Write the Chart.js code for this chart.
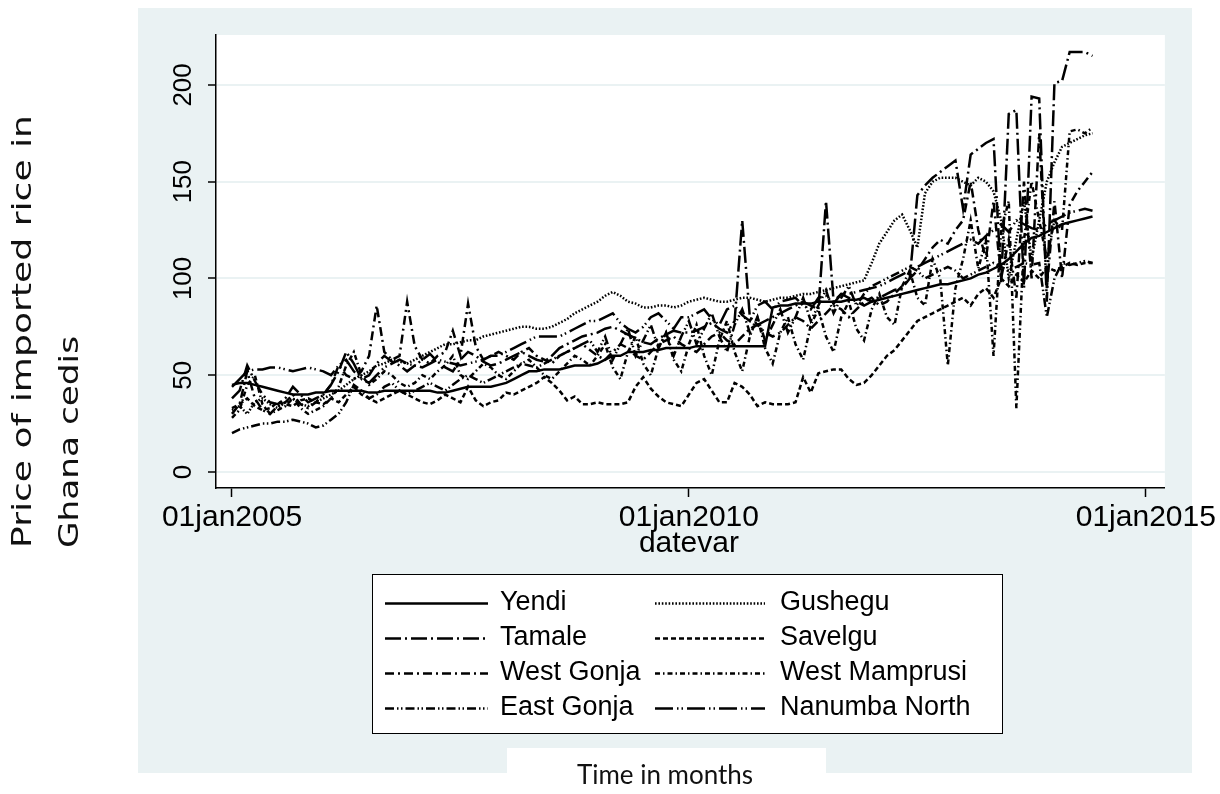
<!DOCTYPE html>
<html><head><meta charset="utf-8">
<script src="https://cdn.jsdelivr.net/npm/chart.js@4.4.1/dist/chart.umd.min.js"></script>
<style>html,body{margin:0;padding:0;background:#fff;}#wrap{position:relative;width:1220px;height:794px;}</style>
</head><body><div id="wrap"><canvas id="c" width="1220" height="794"></canvas></div>
<script>
// Monthly prices, Jan 2005 .. Jun 2014 (one row per year)
const yendi = [
 45,46,46,45,44,43,42,41,40,40,40,41,
 41,42,42,42,42,42,41,41,42,42,42,42,
 42,42,42,41,41,42,43,44,44,44,44,45,
 46,48,50,52,52,53,53,53,54,55,55,55,
 56,58,60,60,62,62,62,63,63,64,64,64,
 64,65,65,65,65,65,65,65,65,65,65,85,
 86,86,87,87,87,88,88,88,88,89,89,90,
 88,89,90,91,92,93,94,95,96,97,97,98,
 99,100,102,103,105,107,110,114,118,121,122,124,
 126,128,129,130,131,132];
const gushegu = [
 32,34,30,36,38,35,33,36,38,35,34,36,
 38,40,42,45,48,50,52,55,56,58,57,56,
 58,60,62,64,66,66,67,68,68,70,71,72,
 73,74,75,75,74,74,75,77,79,82,84,86,
 88,91,93,91,88,87,85,85,86,86,85,86,
 88,89,90,89,88,88,89,90,90,89,88,89,
 90,90,91,92,92,93,94,95,96,97,98,99,
 108,118,124,130,133,125,116,144,150,152,152,152,
 150,148,152,150,145,130,100,120,140,110,130,150,
 160,168,170,172,174,175];
const tamale = [
 38,42,55,47,40,36,35,38,44,40,36,38,
 40,45,52,62,56,48,50,56,60,57,55,52,
 55,58,61,57,54,52,58,62,60,57,55,56,
 58,60,62,60,58,57,60,64,66,68,70,71,
 72,74,75,73,71,69,67,66,69,71,73,72,
 72,73,75,77,74,72,78,130,80,76,78,80,
 82,84,86,88,86,84,140,88,92,90,88,86,
 88,90,92,94,95,100,143,148,152,155,158,161,
 136,164,167,170,172,98,185,187,95,194,193,88,
 201,202,217,217,217,215];
const savelgu = [
 33,35,38,34,32,33,36,35,34,37,38,36,
 35,38,36,40,44,40,38,36,38,40,42,40,
 38,36,35,37,40,38,36,44,37,34,36,37,
 41,40,42,44,46,49,46,42,37,39,35,35,
 36,35,35,35,36,44,49,43,39,36,35,34,
 40,46,48,42,36,36,46,44,40,34,36,35,
 35,35,36,49,41,51,52,53,53,48,45,46,
 50,55,60,63,68,73,78,80,82,84,86,88,
 90,86,92,95,90,100,96,102,98,104,100,106,
 104,106,108,107,108,108];
const westGonja = [
 30,35,52,38,32,30,34,36,40,35,33,36,
 40,45,55,50,48,52,60,86,62,58,60,88,
 65,58,56,60,62,73,60,87,65,58,60,62,
 60,58,62,64,60,58,56,60,62,64,66,63,
 60,58,62,66,64,60,58,62,66,68,70,66,
 64,62,66,70,72,68,66,70,74,76,72,70,
 72,76,80,78,74,78,82,86,84,80,84,88,
 90,86,88,92,96,100,104,110,116,120,118,125,
 130,150,125,110,140,100,120,90,150,100,175,95,
 140,100,138,145,150,155];
const westMamprusi = [
 28,32,45,50,35,30,32,34,38,33,30,32,
 34,38,44,55,62,50,45,48,52,50,46,44,
 46,50,48,52,55,60,50,48,52,56,54,50,
 48,52,56,58,54,50,48,52,56,60,58,55,
 60,66,54,48,62,70,56,50,64,72,58,52,
 66,76,60,50,68,78,62,52,70,80,64,56,
 72,80,66,58,76,84,70,62,80,88,74,68,
 84,92,80,76,96,104,90,86,110,100,55,95,
 110,130,105,120,60,125,140,33,120,150,130,110,
 130,125,176,177,175,178];
const eastGonja = [
 20,22,23,24,25,25,26,26,27,26,25,23,
 24,27,30,36,45,42,38,40,44,46,42,40,
 42,44,46,44,42,45,48,50,48,46,48,50,
 52,54,56,55,54,56,58,60,62,64,66,68,
 62,70,58,66,74,60,68,76,64,72,60,70,
 78,66,74,82,70,62,76,84,72,80,68,76,
 84,72,80,90,78,86,94,82,90,96,86,92,
 96,98,100,102,104,106,104,100,102,104,106,104,
 100,102,104,106,108,106,104,106,108,107,108,80,
 100,108,107,108,109,108];
const nanumbaNorth = [
 44,48,52,53,53,54,54,53,52,53,54,53,
 52,50,55,58,52,48,46,50,54,56,58,56,
 55,54,56,58,57,56,55,56,57,58,60,60,
 62,64,66,68,70,70,70,70,72,74,76,78,
 78,80,82,77,74,72,75,80,82,78,74,80,
 80,82,84,79,76,84,86,81,78,86,88,84,
 88,89,90,86,84,90,91,87,92,92,93,94,
 95,96,98,100,102,104,106,108,110,112,114,116,
 118,120,118,122,125,128,124,130,128,126,125,128,
 130,132,134,135,136,135];

const seriesNames = ['Yendi','Gushegu','Tamale','Savelgu','West Gonja','West Mamprusi','East Gonja','Nanumba North'];
const seriesValues = [yendi, gushegu, tamale, savelgu, westGonja, westMamprusi, eastGonja, nanumbaNorth];
const xTickValues = [0, 60, 120];            // months since Jan 2005
const xTickLabels = ['01jan2005','01jan2010','01jan2015'];
const yTickValues = [0, 50, 100, 150, 200];
const xAxisTitle = 'datevar';
const yTitleLines = ['Price of imported rice in', 'Ghana cedis'];
const bottomNote = 'Time in months';

// styles
const PANEL = '#EAF2F3';
const TICKFONT = '"Liberation Sans", Arial, sans-serif';
const dashes = [[], [1.6,1.8], [16,4,2,4], [5,3], [9,4,2,4], [5,3,1.5,3], [9,3,1.5,2.5,1.5,3], [18,4,1.5,3,1.5,4]];

const datasets = seriesNames.map((name, k) => ({
  label: name,
  data: seriesValues[k].map((v, i) => ({x: i, y: v})),
  borderColor: '#000',
  borderWidth: 2.5,
  borderDash: dashes[k],
  pointRadius: 0,
  fill: false,
  tension: 0
}));

const decor = {
  id: 'decor',
  beforeDraw(chart) {
    const ctx = chart.ctx, a = chart.chartArea;
    ctx.save();
    ctx.fillStyle = '#fff'; ctx.fillRect(0, 0, chart.width, chart.height);
    ctx.fillStyle = PANEL; ctx.fillRect(138, 8, 1054, 765);
    ctx.fillStyle = '#fff'; ctx.fillRect(a.left, a.top, a.right - a.left, a.bottom - a.top);
    ctx.restore();
  },
  afterDraw(chart) {
    const ctx = chart.ctx, ys = chart.scales.y, xs = chart.scales.x;
    ctx.save();
    ctx.fillStyle = '#000';
    // rotated y tick labels
    ctx.font = '26px "Liberation Sans", Arial, sans-serif';
    ctx.textAlign = 'center'; ctx.textBaseline = 'middle';
    yTickValues.forEach(v => {
      const y = ys.getPixelForValue(v);
      ctx.save(); ctx.translate(184, y); ctx.rotate(-Math.PI / 2); ctx.fillText(String(v), 0, 0); ctx.restore();
    });
    // x axis title
    ctx.font = '30px ' + TICKFONT;
    ctx.textAlign = 'center'; ctx.textBaseline = 'middle';
    ctx.fillText(xAxisTitle, xs.getPixelForValue(60), 544);
    // y title (two rotated lines, bottom aligned)
    const yTitle = [[24, 433], [71, 212]];
    ctx.font = '26px "DejaVu Sans", Verdana, sans-serif';
    ctx.fillStyle = '#111';
    yTitleLines.forEach((t, k) => {
      const w = ctx.measureText(t).width;
      ctx.save(); ctx.translate(yTitle[k][0], 548); ctx.rotate(-Math.PI / 2);
      ctx.scale(yTitle[k][1] / w, 1);
      ctx.textAlign = 'left'; ctx.textBaseline = 'middle'; ctx.fillText(t, 0, 0); ctx.restore();
    });
    // legend
    ctx.fillStyle = '#fff'; ctx.fillRect(372, 574, 631, 160);
    ctx.strokeStyle = '#000'; ctx.lineWidth = 1; ctx.strokeRect(372.5, 574.5, 630, 159);
    const colSample = [[385, 488], [655, 765]], colText = [500, 780], rowY = [603, 638, 673, 708];
    ctx.font = '27px "Liberation Sans", Arial, sans-serif';
    ctx.textAlign = 'left'; ctx.textBaseline = 'middle';
    chart.data.datasets.forEach((ds, k) => {
      const c = k % 2, r = Math.floor(k / 2), y = rowY[r];
      ctx.save();
      ctx.strokeStyle = ds.borderColor; ctx.lineWidth = 2.5; ctx.setLineDash(ds.borderDash);
      ctx.beginPath(); ctx.moveTo(colSample[c][0], y + 0.5); ctx.lineTo(colSample[c][1], y + 0.5); ctx.stroke();
      ctx.restore();
      ctx.fillStyle = '#000'; ctx.fillText(ds.label, colText[c], y);
    });
    // bottom note box
    ctx.fillStyle = '#fff'; ctx.fillRect(507, 748, 319, 46);
    ctx.fillStyle = '#111'; ctx.font = '26px Lato, "Open Sans", sans-serif';
    ctx.textAlign = 'center'; ctx.textBaseline = 'middle';
    ctx.fillText(bottomNote, 665, 776);
    ctx.restore();
  }
};

new Chart(document.getElementById('c'), {
  type: 'line',
  data: { datasets },
  options: {
    responsive: false, animation: false, devicePixelRatio: 1,
    layout: { padding: { left: 136, right: 55, top: 35, bottom: 206 } },
    plugins: { legend: { display: false }, tooltip: { enabled: false } },
    scales: {
      x: {
        type: 'linear', min: -2.1, max: 122.5,
        afterFit(s) { s.height = 100; },
        afterBuildTicks(s) { s.ticks = xTickValues.map(v => ({ value: v })); },
        ticks: {
          autoSkip: false, maxRotation: 0, minRotation: 0, padding: 3, color: '#000',
          font: { family: TICKFONT, size: 30 },
          callback: (v) => xTickLabels[xTickValues.indexOf(v)]
        },
        grid: { drawOnChartArea: false, drawTicks: true, tickLength: 9, tickColor: '#000', tickWidth: 1.5 },
        border: { color: '#000', width: 1.5 }
      },
      y: {
        min: -8.3, max: 225.8,
        afterFit(s) { s.width = 80; },
        afterBuildTicks(s) { s.ticks = yTickValues.map(v => ({ value: v })); },
        ticks: { display: false },
        grid: { color: PANEL, lineWidth: 2, drawTicks: true, tickLength: 8, tickColor: '#000', tickWidth: 1.5 },
        border: { color: '#000', width: 1.5 }
      }
    }
  },
  plugins: [decor]
});
</script></body></html>
